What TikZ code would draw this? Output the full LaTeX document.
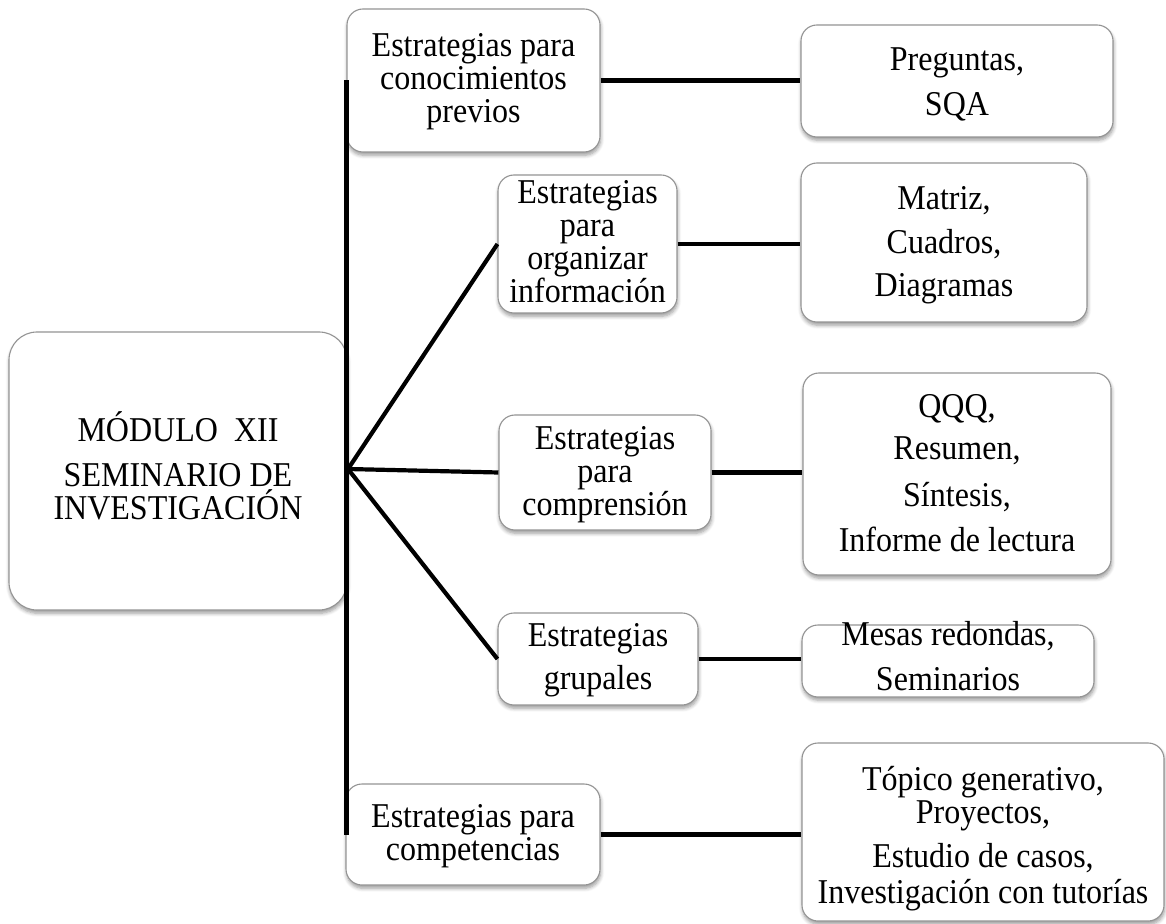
\documentclass[tikz,border=0pt]{standalone}
\usepackage{fontspec}
\setmainfont{Liberation Serif}[FakeStretch=0.92]
\usetikzlibrary{shadows.blur}
\definecolor{boxline}{HTML}{949494}
\begin{document}
\begin{tikzpicture}[x=0.5pt, y=-0.5pt]
\tikzset{
  frame/.style={draw=boxline, line width=0.55pt, fill=white, rounded corners=8pt,
    inner sep=0pt,
    blur shadow={shadow xshift=0.3pt, shadow yshift=-1.6pt, shadow blur steps=6, shadow opacity=40}},
  words/.style={align=center, inner sep=0pt, font=\fontsize{17.4pt}{16.5pt}\selectfont},
  link/.style={line width=2.1pt, black},
  hlink/.style={line width=2.4pt, black},
}
\useasboundingbox (0,0) rectangle (1166,924);

% ---- frames -------------------------------------------------------
\node[frame, rounded corners=14pt, minimum width=169pt, minimum height=139pt] (main) at (178,471) {};

\node[frame, minimum width=126.5pt, minimum height=71.5pt] (s1) at (473.5,80.5) {};
\node[frame, minimum width=89.5pt,  minimum height=69pt]   (s2) at (587.5,244) {};
\node[frame, minimum width=106pt,   minimum height=57.5pt] (s3) at (605,472.5) {};
\node[frame, minimum width=100pt,   minimum height=46pt]   (s4) at (598,659) {};
\node[frame, minimum width=127pt,   minimum height=50.5pt] (s5) at (473,834.5) {};

\node[frame, minimum width=156pt, minimum height=56pt]   (t1) at (957,81) {};
\node[frame, minimum width=143pt, minimum height=79.5pt] (t2) at (944,242.5) {};
\node[frame, minimum width=154pt, minimum height=101pt]  (t3) at (957,474) {};
\node[frame, minimum width=146pt, minimum height=36pt]   (t4) at (948,661) {};
\node[frame, minimum width=181pt, minimum height=89pt]   (t5) at (983,832) {};

% ---- texts --------------------------------------------------------
\node[words] (main-txt) at (178,465.4) {MÓDULO~ XII\\[6pt]SEMINARIO DE\\INVESTIGACIÓN};

\node[words] (s1-txt) at (473.5,81.9) {Estrategias para\\conocimientos\\previos};
\node[words] (s2-txt) at (587.5,242.1) {Estrategias\\para\\organizar\\información};
\node[words] (s3-txt) at (605,474.4) {Estrategias\\para\\comprensión};
\node[words] (s4-txt) at (598,660.4) {Estrategias\\[5pt]grupales};
\node[words] (s5-txt) at (473,835.9) {Estrategias para\\competencias};

\node[words] (t1-txt) at (957,84.1) {Preguntas,\\[6pt]SQA};
\node[words] (t2-txt) at (944,245.4) {Matriz,\\[5.25pt]Cuadros,\\[5.25pt]Diagramas};
\node[words] (t3-txt) at (957,473.3) {QQQ,\\[4.5pt]Resumen,\\[7pt]Síntesis,\\[6pt]Informe de lectura};
\node[words] (t4-txt) at (948,655.6) {Mesas redondas,\\[6pt]Seminarios};
\node[words] (t5-txt) at (983,838.4) {Tópico generativo,\\Proyectos,\\[5.5pt]Estudio de casos,\\[1.5pt]Investigación con tutorías};

% ---- trunk and fan-out ---------------------------------------------
\coordinate (hub) at (348,469);
\draw[link] (s1.west) -- (s1.west |- s5.west);
\draw[link] (hub) -- (s2.west);
\draw[link] (hub) -- (s3.west);
\draw[link] (hub) -- (s4.west);

% ---- group-to-technique links --------------------------------------
\draw[hlink] (s1.east) -- (s1.east -| t1.west);
\draw[hlink] (s2.east) -- (s2.east -| t2.west);
\draw[hlink] (s3.east) -- (s3.east -| t3.west);
\draw[hlink] (s4.east) -- (s4.east -| t4.west);
\draw[hlink] (s5.east) -- (s5.east -| t5.west);
\end{tikzpicture}
\end{document}
